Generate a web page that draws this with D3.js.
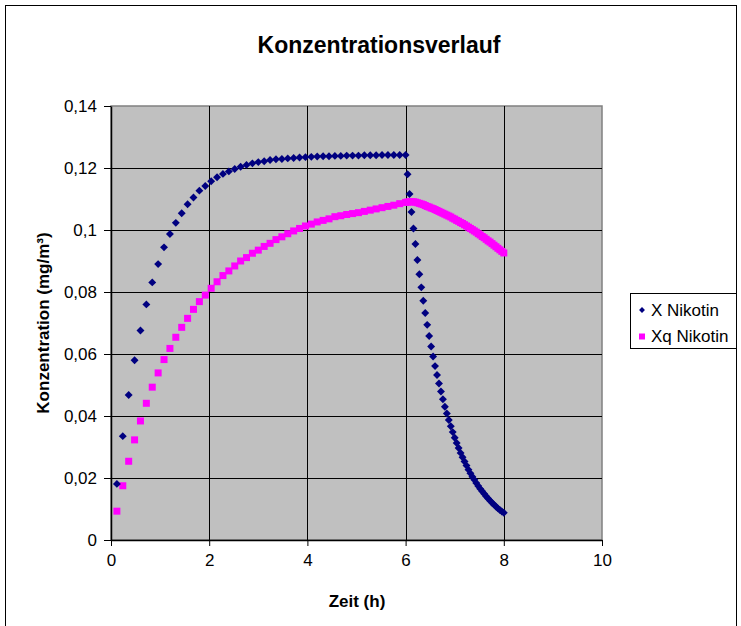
<!DOCTYPE html>
<html>
<head>
<meta charset="utf-8">
<script src="https://cdn.jsdelivr.net/npm/d3@7"></script>
<style>
  html, body { margin: 0; padding: 0; background: #fff; }
  svg { display: block; font-family: "Liberation Sans", Arial, sans-serif; }
</style>
</head>
<body>
<svg id="chart" width="741" height="626"></svg>
<script>
// Simulated nicotine concentration (mg/m³) over time (h)
// Phase 1: 0.12 h steps up to 6 h, phase 2: 0.04 h steps from 6 h to 8 h
const timePhase1 = [
  0.12, 0.24, 0.36, 0.48, 0.60, 0.72, 0.84, 0.96, 1.08, 1.20,
  1.32, 1.44, 1.56, 1.68, 1.80, 1.92, 2.04, 2.16, 2.28, 2.40,
  2.52, 2.64, 2.76, 2.88, 3.00, 3.12, 3.24, 3.36, 3.48, 3.60,
  3.72, 3.84, 3.96, 4.08, 4.20, 4.32, 4.44, 4.56, 4.68, 4.80,
  4.92, 5.04, 5.16, 5.28, 5.40, 5.52, 5.64, 5.76, 5.88, 6.00
];
const timePhase2 = [
  6.04, 6.08, 6.12, 6.16, 6.20, 6.24, 6.28, 6.32, 6.36, 6.40,
  6.44, 6.48, 6.52, 6.56, 6.60, 6.64, 6.68, 6.72, 6.76, 6.80,
  6.84, 6.88, 6.92, 6.96, 7.00, 7.04, 7.08, 7.12, 7.16, 7.20,
  7.24, 7.28, 7.32, 7.36, 7.40, 7.44, 7.48, 7.52, 7.56, 7.60,
  7.64, 7.68, 7.72, 7.76, 7.80, 7.84, 7.88, 7.92, 7.96, 8.00
];

const xNikotin = [
  0.0181, 0.0335, 0.0468, 0.0580, 0.0676, 0.0760, 0.0831, 0.0890, 0.0944, 0.0987,
  0.1023, 0.1054, 0.1083, 0.1105, 0.1127, 0.1142, 0.1157, 0.1170, 0.1181, 0.1189,
  0.1197, 0.1204, 0.1210, 0.1215, 0.1219, 0.1222, 0.1226, 0.1228, 0.1229, 0.1231,
  0.1232, 0.1234, 0.1235, 0.1236, 0.1237, 0.1238, 0.1238, 0.1239, 0.1239, 0.1240,
  0.1240, 0.1240, 0.1241, 0.1241, 0.1241, 0.1242, 0.1242, 0.1242, 0.1242, 0.1242,
  0.1180, 0.1116, 0.1058, 0.1005, 0.0955, 0.0903, 0.0857, 0.0815, 0.0772, 0.0732,
  0.0694, 0.0658, 0.0624, 0.0592, 0.0561, 0.0532, 0.0505, 0.0479, 0.0454, 0.0430,
  0.0408, 0.0387, 0.0367, 0.0348, 0.0330, 0.0313, 0.0297, 0.0281, 0.0267, 0.0253,
  0.0240, 0.0227, 0.0215, 0.0204, 0.0194, 0.0184, 0.0174, 0.0165, 0.0157, 0.0149,
  0.0141, 0.0134, 0.0127, 0.0120, 0.0114, 0.0108, 0.0102, 0.0097, 0.0092, 0.0088
];

const xqNikotin = [
  0.0093, 0.0175, 0.0254, 0.0323, 0.0384, 0.0441, 0.0493, 0.0539, 0.0582, 0.0618,
  0.0654, 0.0686, 0.0715, 0.0744, 0.0769, 0.0790, 0.0812, 0.0833, 0.0853, 0.0868,
  0.0884, 0.0900, 0.0911, 0.0925, 0.0935, 0.0947, 0.0957, 0.0969, 0.0978, 0.0988,
  0.0997, 0.1005, 0.1013, 0.1019, 0.1026, 0.1031, 0.1036, 0.1043, 0.1046, 0.1050,
  0.1053, 0.1056, 0.1060, 0.1064, 0.1068, 0.1072, 0.1076, 0.1080, 0.1085, 0.1089,
  0.1090, 0.1091, 0.1091, 0.1091, 0.1090, 0.1088, 0.1086, 0.1084, 0.1082, 0.1079,
  0.1076, 0.1074, 0.1071, 0.1069, 0.1066, 0.1063, 0.1060, 0.1057, 0.1054, 0.1051,
  0.1048, 0.1045, 0.1042, 0.1038, 0.1035, 0.1031, 0.1028, 0.1024, 0.1021, 0.1017,
  0.1013, 0.1009, 0.1005, 0.1001, 0.0997, 0.0993, 0.0988, 0.0984, 0.0979, 0.0975,
  0.0970, 0.0965, 0.0961, 0.0956, 0.0951, 0.0946, 0.0941, 0.0936, 0.0931, 0.0926
];

const xTicks = [0, 2, 4, 6, 8, 10];
const xTickLabels = ["0", "2", "4", "6", "8", "10"];
const yTicks = [0, 0.02, 0.04, 0.06, 0.08, 0.10, 0.12, 0.14];
const yTickLabels = ["0", "0,02", "0,04", "0,06", "0,08", "0,1", "0,12", "0,14"];

const seriesNames = ["X Nikotin", "Xq Nikotin"];
const titleText = "Konzentrationsverlauf";
const xTitle = "Zeit (h)";
const yTitle = "Konzentration (mg/m³)";

const time = timePhase1.concat(timePhase2);
const seriesX = time.map((t, i) => ({ t, v: xNikotin[i] }));
const seriesXq = time.map((t, i) => ({ t, v: xqNikotin[i] }));

const svg = d3.select("#chart");
const W = 741, H = 626;
const plot = { left: 111, right: 602, top: 106, bottom: 540 };

const x = d3.scaleLinear().domain([0, 10]).range([plot.left, plot.right]);
const y = d3.scaleLinear().domain([0, 0.14]).range([plot.bottom, plot.top]);

// page background and outer frame
svg.append("rect").attr("width", W).attr("height", H).attr("fill", "#fff");
svg.append("rect")
  .attr("x", 5.5).attr("y", 5.5).attr("width", 731).attr("height", 640)
  .attr("fill", "none").attr("stroke", "#000").attr("stroke-width", 1);

// title
svg.append("text")
  .attr("x", 379).attr("y", 53)
  .attr("text-anchor", "middle")
  .attr("font-size", 23).attr("font-weight", "bold")
  .text(titleText);

// plot area
svg.append("rect")
  .attr("x", plot.left).attr("y", plot.top)
  .attr("width", plot.right - plot.left).attr("height", plot.bottom - plot.top)
  .attr("fill", "#c0c0c0").attr("stroke", "#808080").attr("stroke-width", 1.5);

// gridlines
const grid = svg.append("g");
grid.selectAll("line.h").data(yTicks.slice(1, -1)).join("line")
  .attr("x1", plot.left).attr("x2", plot.right)
  .attr("y1", d => Math.round(y(d)) + 0.5).attr("y2", d => Math.round(y(d)) + 0.5)
  .attr("stroke", "#000").attr("stroke-width", 1);
grid.selectAll("line.v").data(xTicks.slice(1, -1)).join("line")
  .attr("y1", plot.top).attr("y2", plot.bottom)
  .attr("x1", d => Math.round(x(d)) + 0.5).attr("x2", d => Math.round(x(d)) + 0.5)
  .attr("stroke", "#000").attr("stroke-width", 1);

// axes
const xAxis = d3.axisBottom(x).tickValues(xTicks)
  .tickFormat((d, i) => xTickLabels[i]).tickSize(6).tickSizeOuter(0).tickPadding(8);
const yAxis = d3.axisLeft(y).tickValues(yTicks)
  .tickFormat((d, i) => yTickLabels[i]).tickSize(7).tickSizeOuter(0).tickPadding(7);

const gx = svg.append("g").attr("transform", `translate(0,${plot.bottom})`).call(xAxis);
const gy = svg.append("g").attr("transform", `translate(${plot.left},0)`).call(yAxis);
[gx, gy].forEach(g => {
  g.select(".domain").attr("stroke", "#000").attr("stroke-width", 1.5);
  g.selectAll(".tick line").attr("stroke", "#000");
  g.selectAll(".tick text")
    .attr("font-family", "Liberation Sans, Arial, sans-serif")
    .attr("font-size", 17).attr("fill", "#000");
});

// axis titles
svg.append("text")
  .attr("x", 357).attr("y", 607)
  .attr("text-anchor", "middle")
  .attr("font-size", 17).attr("font-weight", "bold")
  .text(xTitle);
svg.append("text")
  .attr("transform", `translate(49,${(plot.top + plot.bottom) / 2}) rotate(-90)`)
  .attr("text-anchor", "middle")
  .attr("font-size", 17).attr("font-weight", "bold")
  .text(yTitle);

// markers
const diamond = d3.symbol().type(d3.symbolDiamond2).size(40);
const squareSide = 7;

svg.append("g").selectAll("rect").data(seriesXq).join("rect")
  .attr("x", d => x(d.t) - squareSide / 2)
  .attr("y", d => y(d.v) - squareSide / 2)
  .attr("width", squareSide).attr("height", squareSide)
  .attr("fill", "#ff00ff");

svg.append("g").selectAll("path").data(seriesX).join("path")
  .attr("d", diamond)
  .attr("transform", d => `translate(${x(d.t)},${y(d.v)})`)
  .attr("fill", "#000080");

// legend
const lg = svg.append("g");
lg.append("rect")
  .attr("x", 630.5).attr("y", 293.5).attr("width", 106).attr("height", 55)
  .attr("fill", "#fff").attr("stroke", "#000").attr("stroke-width", 1);
lg.append("path")
  .attr("d", d3.symbol().type(d3.symbolDiamond2).size(22)())
  .attr("transform", "translate(642,310)")
  .attr("fill", "#000080");
lg.append("rect")
  .attr("x", 639).attr("y", 333.5).attr("width", 6).attr("height", 6)
  .attr("fill", "#ff00ff");
lg.selectAll("text").data(seriesNames).join("text")
  .attr("x", 651)
  .attr("y", (d, i) => 316 + i * 26)
  .attr("font-size", 17)
  .text(d => d);
</script>
</body>
</html>
